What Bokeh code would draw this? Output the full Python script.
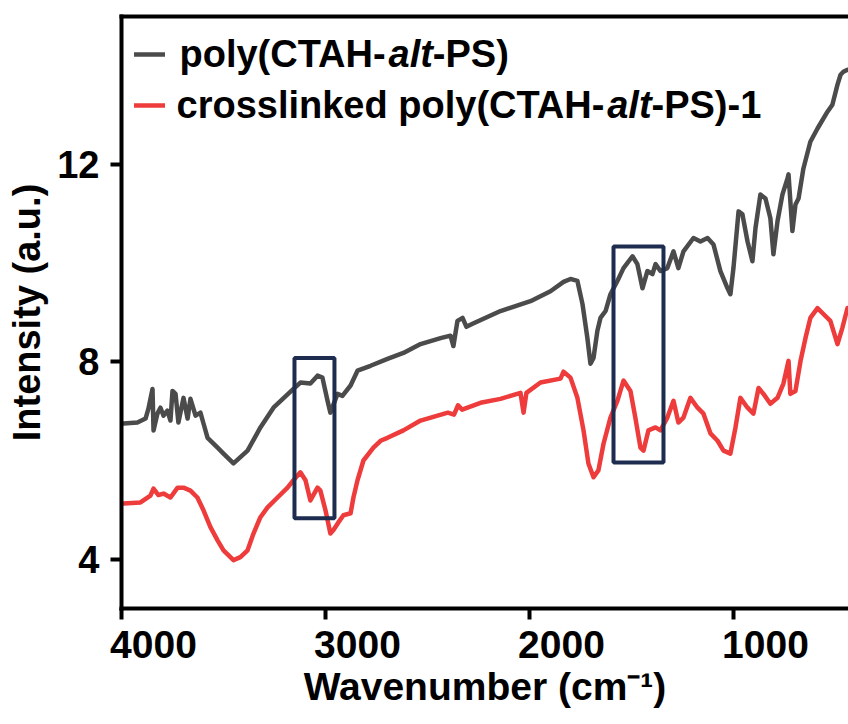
from bokeh.plotting import figure
from bokeh.models import (Range1d, FixedTicker, LinearAxis, Label, Legend,
                          LegendItem, CustomJSTickFormatter)
from bokeh.embed import file_html
from bokeh.resources import INLINE

# ---------------- data ----------------
series_names = ["poly(CTAH-alt-PS)", "crosslinked poly(CTAH-alt-PS)-1"]

wn_poly = [3990, 3922, 3882, 3868, 3848, 3843, 3824, 3809, 3794, 3775, 3760,
           3750, 3735, 3721, 3696, 3676, 3662, 3637, 3613, 3598, 3578, 3529,
           3500, 3451, 3382, 3319, 3255, 3157, 3123, 3074, 3039, 3015, 2990,
           2976, 2941, 2917, 2877, 2843, 2779, 2696, 2618, 2534, 2436, 2387,
           2373, 2353, 2328, 2309, 2279, 2142, 1995, 1897, 1833, 1799, 1765,
           1740, 1716, 1701, 1686, 1667, 1652, 1627, 1603, 1569, 1539, 1495,
           1471, 1446, 1422, 1397, 1382, 1358, 1324, 1294, 1270, 1245, 1196,
           1162, 1127, 1098, 1064, 1029, 1015, 1000, 975, 956, 931, 907, 892,
           868, 843, 819, 804, 784, 760, 735, 730, 711, 696, 681, 657, 623,
           588, 539, 515, 490, 475, 461, 441]
int_poly = [6.75, 6.77, 6.85, 7.05, 7.45, 6.61, 6.95, 7.07, 6.91, 7.01, 6.81,
            7.41, 7.35, 6.77, 7.27, 6.85, 7.25, 6.91, 6.97, 6.75, 6.46, 6.26,
            6.14, 5.94, 6.20, 6.67, 7.07, 7.45, 7.58, 7.56, 7.72, 7.68, 7.21,
            6.97, 7.35, 7.31, 7.52, 7.82, 7.92, 8.06, 8.18, 8.36, 8.48, 8.53,
            8.32, 8.83, 8.89, 8.71, 8.77, 9.03, 9.23, 9.43, 9.62, 9.68, 9.64,
            9.17, 8.48, 7.96, 8.08, 8.63, 8.89, 9.03, 9.37, 9.64, 9.90, 10.14,
            9.98, 9.49, 9.84, 9.78, 9.98, 9.84, 9.90, 10.24, 9.90, 10.24, 10.51,
            10.44, 10.51, 10.38, 9.84, 9.49, 9.37, 9.90, 11.05, 10.99, 10.44,
            10.04, 10.71, 11.39, 11.31, 10.91, 10.18, 10.85, 11.39, 11.72,
            11.80, 10.65, 11.19, 11.31, 11.92, 12.46, 12.73, 13.07, 13.21,
            13.62, 13.82, 13.88, 13.92]

wn_xl = [3990, 3907, 3858, 3843, 3819, 3794, 3760, 3725, 3696, 3662, 3628,
         3598, 3564, 3529, 3500, 3451, 3417, 3382, 3353, 3319, 3284, 3235,
         3186, 3157, 3123, 3098, 3074, 3039, 3025, 3000, 2976, 2961, 2936,
         2912, 2877, 2863, 2843, 2814, 2765, 2730, 2696, 2618, 2534, 2400,
         2370, 2350, 2330, 2240, 2142, 2044, 2029, 2015, 1946, 1848, 1833,
         1799, 1765, 1735, 1711, 1686, 1662, 1637, 1603, 1569, 1539, 1505,
         1481, 1456, 1441, 1417, 1382, 1358, 1324, 1294, 1270, 1245, 1211,
         1176, 1147, 1113, 1078, 1049, 1015, 990, 966, 931, 902, 877, 853,
         819, 784, 755, 730, 721, 696, 671, 647, 623, 588, 559, 525, 490,
         466, 441]
int_xl = [5.13, 5.15, 5.29, 5.43, 5.30, 5.33, 5.25, 5.45, 5.45, 5.39, 5.25,
          4.99, 4.65, 4.38, 4.18, 3.98, 4.04, 4.18, 4.52, 4.85, 5.05, 5.25,
          5.45, 5.60, 5.76, 5.60, 5.19, 5.45, 5.39, 4.99, 4.52, 4.59, 4.75,
          4.89, 4.93, 5.25, 5.60, 6.00, 6.26, 6.40, 6.46, 6.61, 6.81, 6.97,
          6.93, 7.12, 7.03, 7.17, 7.25, 7.37, 6.97, 7.37, 7.58, 7.66, 7.80,
          7.68, 7.27, 6.61, 5.94, 5.66, 5.80, 6.34, 6.87, 7.21, 7.62, 7.41,
          6.87, 6.26, 6.20, 6.61, 6.67, 6.61, 6.87, 7.21, 6.77, 6.87, 7.27,
          7.07, 6.95, 6.55, 6.40, 6.20, 6.14, 6.67, 7.27, 7.07, 6.95, 7.47,
          7.35, 7.15, 7.27, 7.56, 8.02, 7.35, 7.41, 8.02, 8.48, 8.89, 9.09,
          8.97, 8.83, 8.36, 8.69, 9.09]

# highlighted regions (wavenumber / intensity)
box_left = [3152, 1588]
box_right = [2956, 1343]
box_bottom = [4.83, 5.96]
box_top = [8.08, 10.34]

x_ticks = [4000, 3000, 2000, 1000]
y_ticks = [4, 8, 12]

# ---------------- styling ----------------
FONT = "Liberation Sans"
GREY = "#4b4b4b"
RED = "#ee3b3b"
NAVY = "#1e2c4f"

X_START, X_END = 4000, 436
Y_START, Y_END = 3, 15
FRAME_W = 727                      # 848 - 121
LABEL_SHIFT = 32 * (X_START - X_END) / FRAME_W   # tick labels sit 32px right of ticks

p = figure(width=848, height=724,
           x_range=Range1d(X_START, X_END), y_range=Range1d(Y_START, Y_END),
           output_backend="svg", toolbar_location=None,
           min_border_left=121, min_border_right=0,
           min_border_top=16, min_border_bottom=116)
p.outline_line_color = None
p.xgrid.visible = False
p.ygrid.visible = False
p.background_fill_color = "white"
p.border_fill_color = "white"
p.extra_x_ranges = {"lbl": Range1d(X_START + LABEL_SHIFT, X_END + LABEL_SHIFT)}

# bottom axis: line + ticks
xa = p.xaxis[0]
xa.ticker = FixedTicker(ticks=x_ticks)
xa.formatter = CustomJSTickFormatter(code="return ''")
xa.major_label_text_font_size = "0px"
xa.major_label_standoff = 0
xa.major_tick_in = 0
xa.major_tick_out = 11
xa.major_tick_line_width = 4
xa.minor_tick_line_color = None
xa.axis_line_width = 4
xa.axis_line_cap = "square"

# bottom axis: tick labels (offset as in the reference) + title
xl = LinearAxis(x_range_name="lbl", ticker=FixedTicker(ticks=x_ticks),
                axis_line_color=None, major_tick_line_color=None,
                major_tick_in=0, major_tick_out=0,
                minor_tick_line_color=None, minor_tick_in=0, minor_tick_out=0)
xl.major_label_text_font = FONT
xl.major_label_text_font_size = "39px"
xl.major_label_text_font_style = "bold"
xl.major_label_text_color = "black"
xl.major_label_standoff = 11
xl.axis_label = "Wavenumber (cm\u207b\u00b9)"
xl.axis_label_text_font = FONT
xl.axis_label_text_font_size = "39px"
xl.axis_label_text_font_style = "bold"
xl.axis_label_text_color = "black"
xl.axis_label_standoff = 4
p.add_layout(xl, "below")

ya = p.yaxis[0]
ya.ticker = FixedTicker(ticks=y_ticks)
ya.major_tick_in = 0
ya.major_tick_out = 11
ya.major_tick_line_width = 4
ya.minor_tick_line_color = None
ya.axis_line_width = 4
ya.axis_line_cap = "square"
ya.major_label_text_font = FONT
ya.major_label_text_font_size = "38px"
ya.major_label_text_font_style = "bold"
ya.major_label_text_color = "black"
ya.major_label_standoff = 11
ya.axis_label = "Intensity (a.u.)"
ya.axis_label_text_font = FONT
ya.axis_label_text_font_size = "38px"
ya.axis_label_text_font_style = "bold"
ya.axis_label_text_color = "black"
ya.axis_label_standoff = 6

top = LinearAxis(ticker=FixedTicker(ticks=[]), axis_line_width=4,
                 axis_line_cap="square",
                 major_tick_in=0, major_tick_out=0,
                 minor_tick_in=0, minor_tick_out=0,
                 major_label_text_font_size="0px", major_label_standoff=0,
                 formatter=CustomJSTickFormatter(code="return ''"))
p.add_layout(top, "above")

# spectra
r_poly = p.line(wn_poly, int_poly, line_color=GREY, line_width=4.5,
                line_join="round", line_cap="round")
r_xl = p.line(wn_xl, int_xl, line_color=RED, line_width=4.5,
              line_join="round", line_cap="round")

# highlight boxes
p.quad(left=box_left, right=box_right, bottom=box_bottom, top=box_top,
       fill_color=None, line_color=NAVY, line_width=4)

# legend swatches
legend = Legend(items=[LegendItem(label=" ", renderers=[r_poly]),
                       LegendItem(label=" ", renderers=[r_xl])],
                location=(13, 493), orientation="vertical",
                glyph_width=31, glyph_height=20, label_height=20,
                label_width=0, label_standoff=0, label_text_font_size="1px",
                spacing=31, padding=0, margin=0,
                border_line_color=None, background_fill_alpha=0)
p.add_layout(legend)

# legend texts (with italic "alt")
def legend_text(pieces, x_off, y_off):
    for txt, style, dx in pieces:
        p.add_layout(Label(x=X_START, y=Y_END, x_offset=x_off + dx,
                           y_offset=y_off, text=txt, text_align="left",
                           text_baseline="middle", text_font=FONT,
                           text_font_size="38px", text_font_style=style,
                           text_color="black"))

legend_text([("poly(CTAH-", "bold", 0), ("alt", "bold italic", 209),
             ("-PS)", "bold", 253.3)], 58, -37)
legend_text([("crosslinked poly(CTAH-", "bold", 0),
             ("alt", "bold italic", 430.7), ("-PS)-1", "bold", 475)], 55, -88)

open("out.html", "w").write(file_html(p, INLINE))
